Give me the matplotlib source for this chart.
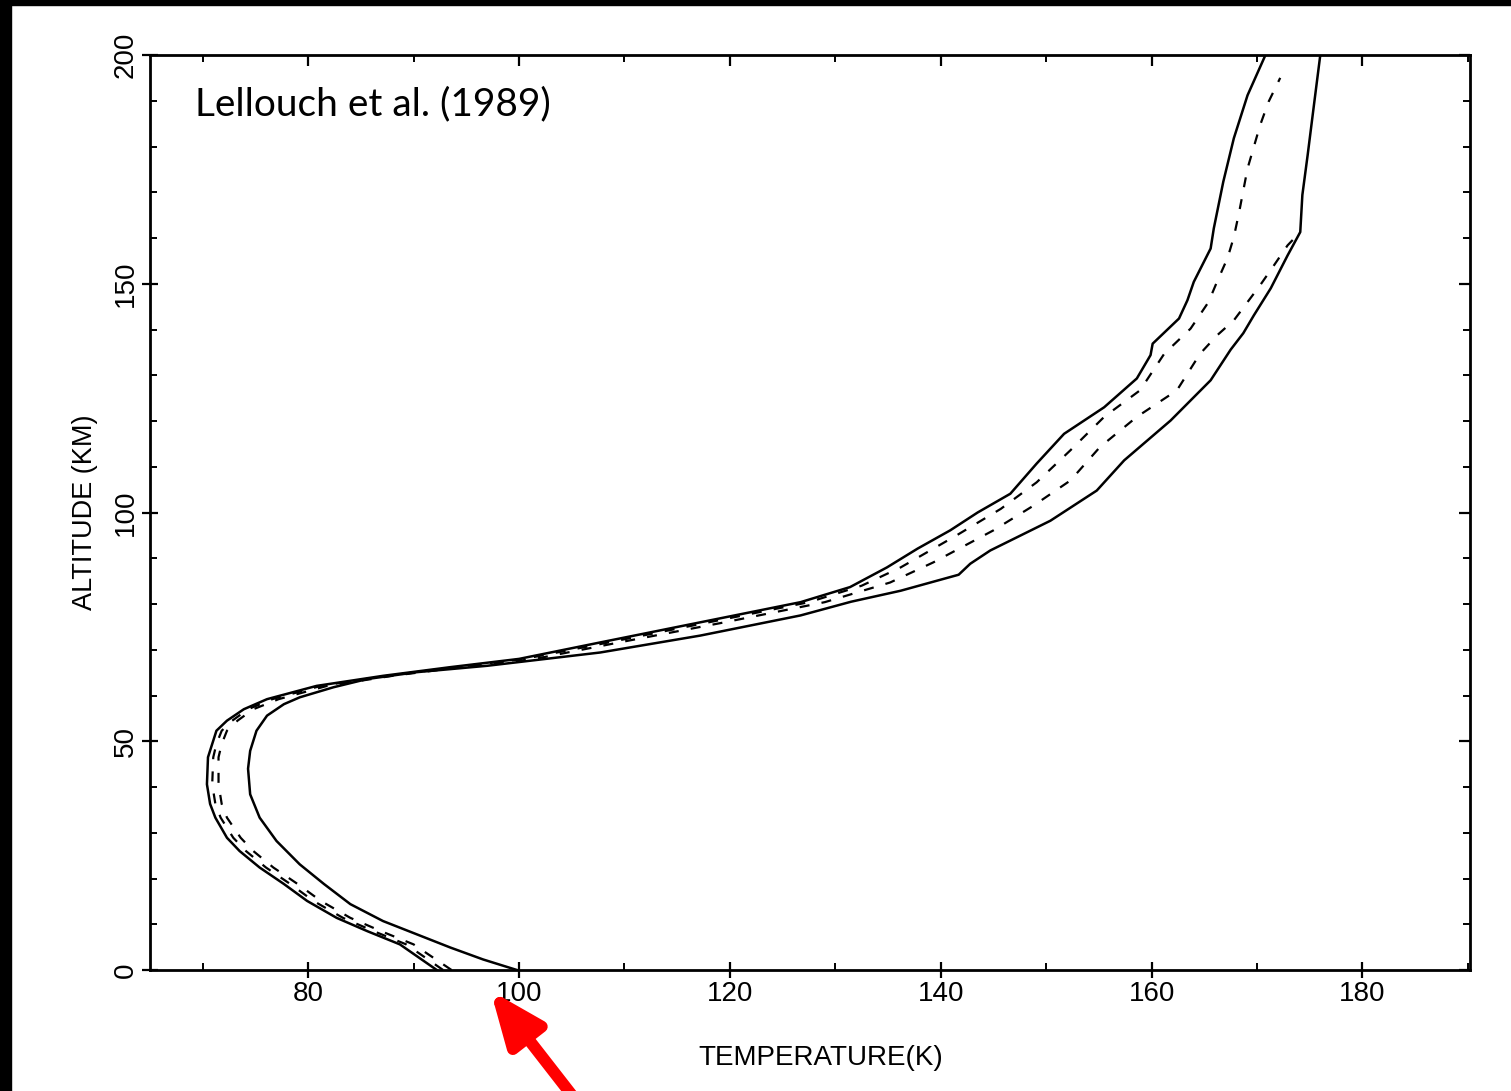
import numpy as np
import matplotlib
matplotlib.use('Agg')
import matplotlib.pyplot as plt
from matplotlib.patches import Rectangle

plt.rcParams['font.family'] = ['Liberation Sans', 'DejaVu Sans']

# temperature profiles
# altitude (km) and temperature (K), each curve digitised separately

cold_z = [0, 5.6, 8.5, 11.4, 15.1, 18.8, 22.4, 26.0, 28.9, 33.3, 36.3, 40.6, 46.5, 49.4,
          52.3, 54.5, 57.0, 59.2, 62.1, 64.3, 66.2, 68.0, 71.6, 76.0, 80.4, 83.7, 88.0,
          92.1, 96.1, 100.0, 104.1, 110.7, 117.2, 123.0, 129.3, 134.4, 136.9, 142.4,
          146.4, 150.4, 157.7, 162.1, 172.3, 181.8, 191.2, 200.0]
cold_T = [92.2, 88.7, 85.6, 82.7, 79.9, 77.7, 75.4, 73.5, 72.3, 71.2, 70.7, 70.4, 70.5, 70.9,
          71.3, 72.3, 73.9, 76.1, 80.8, 87.1, 93.5, 100.0, 107.7, 117.2, 126.7, 131.4, 134.9,
          137.8, 140.9, 143.5, 146.6, 149.1, 151.7, 155.5, 158.6, 159.9, 160.1, 162.6,
          163.4, 164.0, 165.6, 165.9, 166.8, 167.8, 169.1, 170.8]

warm_z = [0, 2.3, 4.9, 7.8, 10.7, 14.4, 18.8, 23.1, 28.2, 33.3, 38.4, 44.0, 47.9, 52.3,
          55.6, 58.1, 59.6, 61.8, 63.6, 65.1, 66.5, 69.4, 73.1, 77.5, 80.5, 82.9, 86.4,
          88.8, 91.7, 98.2, 104.8, 111.4, 120.1, 128.9, 135.6, 139.2, 143.1, 149.0,
          156.2, 161.3, 169.4, 178.1, 189.1, 200.0]
warm_T = [99.8, 96.6, 93.5, 90.3, 87.1, 84.0, 81.5, 79.2, 77.0, 75.4, 74.5, 74.3, 74.5, 75.1,
          76.1, 77.7, 79.2, 82.4, 85.6, 90.3, 97.0, 107.7, 117.2, 126.7, 131.5, 136.2, 141.7,
          142.8, 144.7, 150.4, 154.8, 157.4, 161.8, 165.6, 167.5, 168.7, 169.7, 171.3,
          172.9, 174.1, 174.3, 174.8, 175.4, 176.0]

dash1_z = [0, 5.6, 8.5, 11.4, 15.1, 18.8, 22.4, 26.0, 28.9, 33.3, 36.3, 40.6, 46.5, 49.4,
           52.3, 54.5, 57.0, 59.2, 62.1, 64.3, 66.2, 68.0, 71.6, 76.0, 80.4, 84.0, 88.0,
           95.0, 100.8, 106.6, 113.6, 120.9, 126.7, 134.7, 140.2, 146.0, 150.4, 155.6,
           160.2, 165.6, 175.2, 184.7, 189.8, 195.0]
dash1_T = [92.8, 89.3, 86.2, 83.3, 80.5, 78.3, 76.0, 74.1, 72.9, 71.7, 71.2, 70.9, 71.0, 71.3,
           71.8, 72.8, 74.3, 76.6, 81.2, 87.5, 94.0, 100.5, 108.5, 118.0, 127.5, 132.5, 136.2,
           141.5, 145.7, 149.1, 152.3, 155.5, 158.9, 161.2, 163.7, 165.4, 166.2, 167.2,
           167.8, 168.3, 169.1, 170.3, 171.1, 172.2]

dash2_z = [0, 5.6, 8.5, 11.4, 15.1, 18.8, 22.4, 26.0, 28.9, 33.3, 36.3, 40.6, 46.5, 49.4,
           52.3, 54.5, 57.0, 59.2, 62.1, 64.3, 66.2, 68.0, 71.6, 76.0, 80.4, 84.7, 89.1,
           96.1, 101.5, 107.0, 114.3, 120.9, 126.7, 134.7, 138.7, 142.0, 146.0, 149.7,
           154.0, 158.4, 161.3]
dash2_T = [93.6, 90.0, 86.9, 84.0, 81.2, 79.0, 76.7, 74.8, 73.6, 72.3, 71.8, 71.5, 71.5, 71.8,
           72.3, 73.3, 74.8, 77.2, 81.8, 88.0, 94.5, 101.5, 109.5, 119.5, 129.0, 135.2, 139.3,
           145.0, 148.8, 152.3, 155.1, 158.6, 162.4, 164.6, 166.2, 167.8, 169.1, 170.3,
           171.6, 172.9, 174.1]

x_major = [80, 100, 120, 140, 160, 180]
x_minor = [70, 90, 110, 130, 150, 170, 190]
y_major = [0, 50, 100, 150, 200]
y_minor = [10, 20, 30, 40, 60, 70, 80, 90, 110, 120, 130, 140, 160, 170, 180, 190]

W, H = 1511, 1091
fig = plt.figure(figsize=(W / 100, H / 100), dpi=100)
ax = fig.add_axes([150 / W, (H - 970) / H, 1320 / W, 915 / H])

ax.plot(cold_T, cold_z, color='black', lw=1.8)
ax.plot(warm_T, warm_z, color='black', lw=1.8)
ax.plot(dash1_T, dash1_z, color='black', lw=1.6, ls=(0, (4.5, 5.5)))
ax.plot(dash2_T, dash2_z, color='black', lw=1.6, ls=(0, (4.5, 5.5)))

ax.set_xlim(65.0, 190.2)
ax.set_ylim(0, 200)
ax.set_xticks(x_major)
ax.set_xticks(x_minor, minor=True)
ax.set_yticks(y_major)
ax.set_yticks(y_minor, minor=True)
for s in ax.spines.values():
    s.set_linewidth(2)

ax.tick_params(which='major', direction='inout', length=12, width=1.6, labelsize=20, pad=2)
ax.tick_params(which='minor', direction='in', length=5, width=1.4)
for lab in ax.get_yticklabels():
    lab.set_rotation(90)
    lab.set_va('center')

# top and right ticks only point inward
top = ax.secondary_xaxis('top')
top.set_xticks(x_major)
top.set_xticks(x_minor, minor=True)
top.tick_params(which='major', direction='in', length=8, width=1.6, labeltop=False)
top.tick_params(which='minor', direction='in', length=5, width=1.4)
right = ax.secondary_yaxis('right')
right.set_yticks(y_major)
right.set_yticks(y_minor, minor=True)
right.tick_params(which='major', direction='in', length=8, width=1.6, labelright=False)
right.tick_params(which='minor', direction='in', length=5, width=1.4)

ax.set_xlabel('TEMPERATURE(K)', fontsize=20)
ax.xaxis.set_label_coords(0.508, -0.082)
ax.set_ylabel('ALTITUDE (KM)', fontsize=19.5, ha='center', va='center')
ax.yaxis.set_label_coords(-0.049, 0.5)

fig.text(195 / W, 1 - 115 / H, 'Lellouch et al. (1989)', fontsize=28,
         family=['Lato', 'DejaVu Sans'], ha='left', va='baseline')

# red pointer to the 100 K surface value
ax.annotate('', xy=(97.3, -4.5), xytext=(578, -12), textcoords='figure pixels',
            annotation_clip=False,
            arrowprops=dict(arrowstyle='-|>,head_length=0.8,head_width=0.33',
                            mutation_scale=40, lw=8.5, color='#ff0000',
                            shrinkA=0, shrinkB=0))

# black scan border on left and top
fig.patches.append(Rectangle((0, 0), 11 / W, 1, transform=fig.transFigure,
                             color='black', zorder=10))
fig.patches.append(Rectangle((0, 1 - 5 / H), 1, 5 / H, transform=fig.transFigure,
                             color='black', zorder=10))

fig.savefig('out.png', dpi=100)
